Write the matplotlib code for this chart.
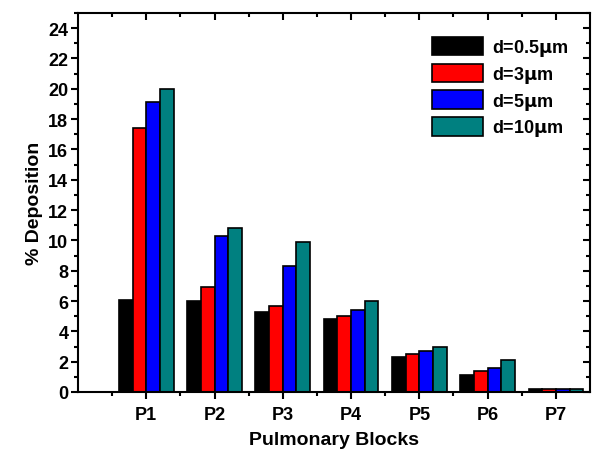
import matplotlib.pyplot as plt
import numpy as np
from matplotlib.ticker import MultipleLocator

plt.rcParams['font.family'] = ['Liberation Sans', 'DejaVu Sans']
plt.rcParams['font.weight'] = 'bold'

blocks = ['P1', 'P2', 'P3', 'P4', 'P5', 'P6', 'P7']
labels = ['d=0.5$\\mathbf{\\mu}$m', 'd=3$\\mathbf{\\mu}$m', 'd=5$\\mathbf{\\mu}$m', 'd=10$\\mathbf{\\mu}$m']
d05 = [6.1, 6.0, 5.3, 4.8, 2.3, 1.1, 0.2]
d3 = [17.4, 6.9, 5.7, 5.0, 2.5, 1.4, 0.2]
d5 = [19.1, 10.3, 8.3, 5.4, 2.7, 1.6, 0.2]
d10 = [20.0, 10.8, 9.9, 6.0, 3.0, 2.1, 0.2]
colors = ['black', 'red', 'blue', '#008080']

fig = plt.figure(figsize=(5.93, 4.52), dpi=100)
ax = fig.add_axes([78/593, 1 - 393/452, 512/593, 379/452])

x = np.arange(1, len(blocks) + 1)
w = 0.2
for i, (vals, c, lab) in enumerate(zip([d05, d3, d5, d10], colors, labels)):
    ax.bar(x + (i - 1.5) * w, vals, w, color=c, edgecolor='black', linewidth=1.2, label=lab)

ax.set_xlim(0, 7.5)
ax.set_ylim(0, 25)
ax.set_xticks(x)
ax.set_xticklabels(blocks)
ax.set_xticks(np.arange(0.5, 7.5, 1), minor=True)
ax.set_yticks(np.arange(0, 25, 2))
ax.yaxis.set_minor_locator(MultipleLocator(1))

for s in ax.spines.values():
    s.set_linewidth(1.5)
ax.tick_params(which='major', length=5, width=1.5, labelsize=13)
ax.tick_params(which='minor', length=3, width=1.5)
ax.tick_params(axis='x', which='major', pad=5)
ax.tick_params(axis='y', which='major', pad=2)
ax.tick_params(axis='x', which='both', top=True, labeltop=False)
ax.tick_params(axis='y', which='both', right=True, labelright=False)
for t in ax.xaxis.get_ticklines(minor=False)[1::2] + ax.xaxis.get_ticklines(minor=True)[1::2]:
    t.set_marker(3)  # inward top ticks
for t in ax.yaxis.get_ticklines(minor=False)[1::2] + ax.yaxis.get_ticklines(minor=True)[1::2]:
    t.set_marker(0)  # inward right ticks
for lbl in ax.get_xticklabels() + ax.get_yticklabels():
    lbl.set_fontweight('bold')

ax.set_xlabel('Pulmonary Blocks', fontsize=14, fontweight='bold', labelpad=6)
ax.set_ylabel('% Deposition', fontsize=14, fontweight='bold', labelpad=4)

ax.legend(loc='upper right', bbox_to_anchor=(0.99, 0.98), frameon=False, fontsize=13,
          handlelength=2.8, handleheight=1.2, labelspacing=0.3, handletextpad=0.5)

fig.savefig('out.png', dpi=100)
